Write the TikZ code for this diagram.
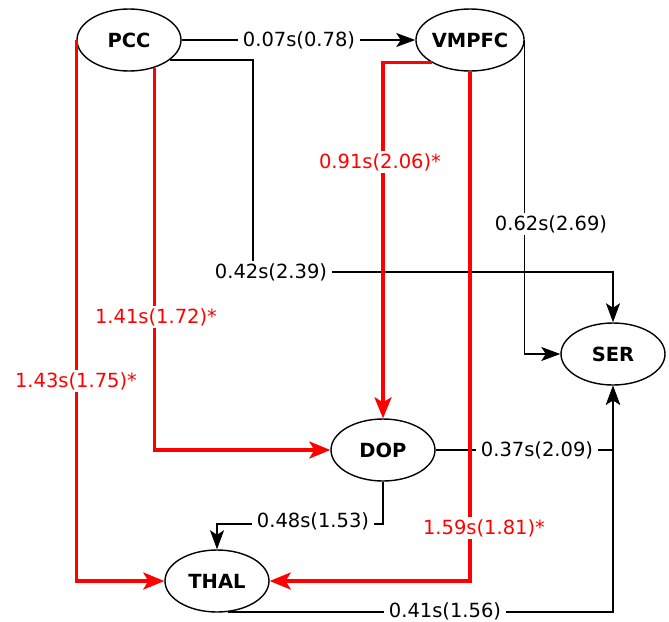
\documentclass[tikz,border=0pt]{standalone}
\usepackage{fontspec}
\setmainfont{DejaVu Sans}
\usetikzlibrary{arrows.meta,shapes.geometric}
\begin{document}
\begin{tikzpicture}[x=1pt,y=-1pt,
  region/.style={draw,ellipse,line width=1.4pt,minimum width=104pt,minimum height=62pt,inner sep=0pt,font=\fontsize{19.5}{22}\selectfont\bfseries},
  blk/.style={line width=1.5pt,-{Stealth[length=19pt,width=14pt,inset=4.5pt]}},
  redge/.style={line width=3.2pt,red,-{Stealth[length=21pt,width=17pt,inset=5pt]}},
  lbl/.style={fill=white,inner xsep=5pt,inner ysep=2pt,font=\fontsize{19.5}{22}\selectfont},
  rlbl/.style={lbl,text=red}]
\useasboundingbox (0,0) rectangle (669,621);
\node[region] (pcc) at (129,40) {PCC};
\node[region] (vmpfc) at (470,40) {VMPFC};
\node[region] (ser) at (613,354) {SER};
\node[region] (dop) at (383,450) {DOP};
\node[region] (thal) at (217,581) {THAL};
% black edges
\draw[blk] (pcc.east) -- (vmpfc.west);
\coordinate (c42) at (253,272);
\draw[blk] (pcc.-26) -| (c42) -| (ser.north);
\draw[blk] (vmpfc.east) |- (ser.west);
\draw[blk] (dop.east) -| (ser.south);
\coordinate (c48) at (383,524);
\draw[blk] (dop.south) -- (c48) -| (thal.north);
\draw[blk] (thal.-70) -| (ser.south);
% red edges
\draw[redge] (vmpfc.-149) -| (dop.north);
\draw[redge] (vmpfc.south) |- (thal.east);
\draw[redge] (pcc.-47) |- (dop.west);
\draw[redge] (pcc.west) |- (thal.west);
% labels
\node[lbl] (l1) at (299,40) {0.07s(0.78)};
\node[lbl] (l2) at (271,272) {0.42s(2.39)};
\node[lbl] (l3) at (551,224) {0.62s(2.69)};
\node[lbl] (l4) at (537,450) {0.37s(2.09)};
\node[lbl] (l5) at (313,521) {0.48s(1.53)};
\node[lbl] (l6) at (445,611) {0.41s(1.56)};
\node[rlbl] (l7) at (380,162) {0.91s(2.06)*};
\node[rlbl] (l8) at (484,528) {1.59s(1.81)*};
\node[rlbl] (l9) at (156,317) {1.41s(1.72)*};
\node[rlbl] (l10) at (76,381) {1.43s(1.75)*};
\end{tikzpicture}
\end{document}
